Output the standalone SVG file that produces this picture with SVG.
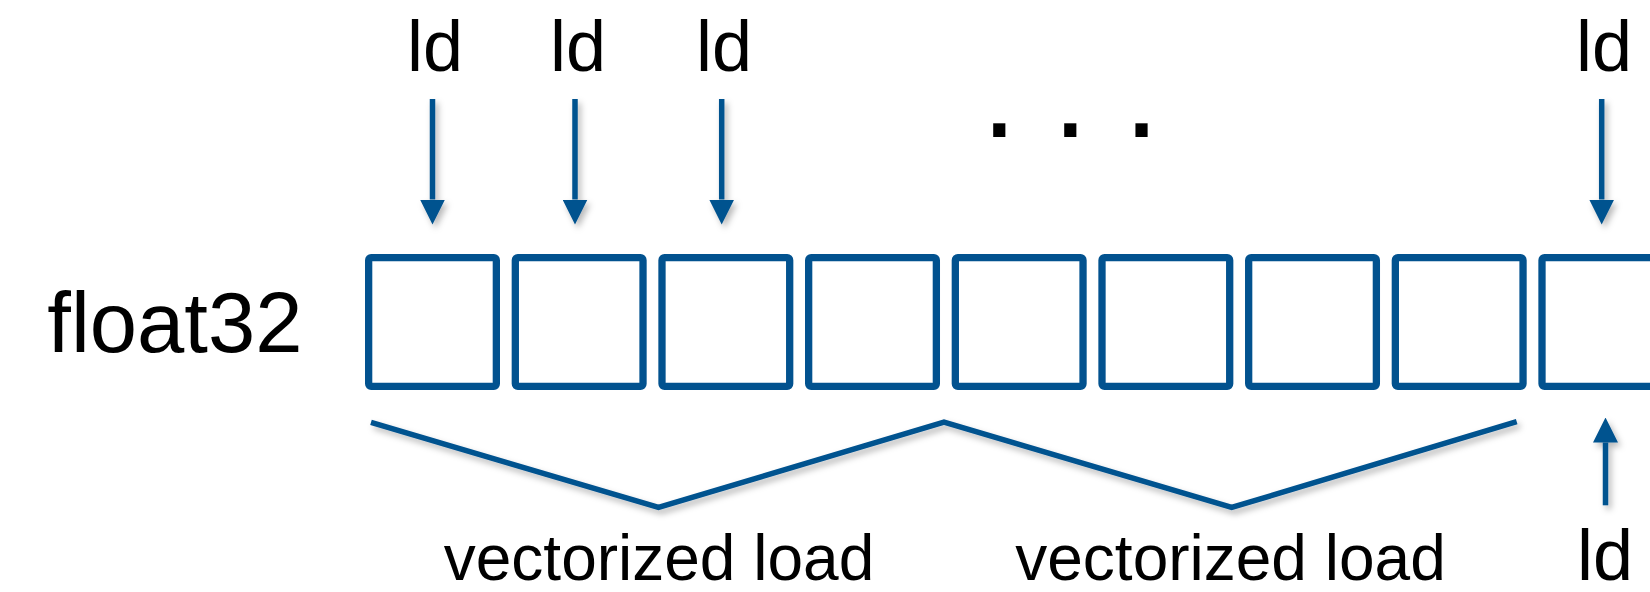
<svg xmlns="http://www.w3.org/2000/svg" width="1650" height="592" viewBox="0 0 1650 592">
  <style>
    .box { fill: #ffffff; stroke: #02528f; stroke-width: 7.3; }
    .arr { stroke: #02528f; stroke-width: 5.5; fill: none; marker-end: url(#head); filter: url(#shadow); }
    .brk { stroke: #02528f; stroke-width: 5.5; fill: none; stroke-linejoin: miter; filter: url(#shadow); }
    .t { font-family: "Liberation Sans", Arial, sans-serif; fill: #000000; }
    .ld { font-size: 72px; text-anchor: middle; }
  </style>
  <defs>
    <marker id="head" viewBox="0 0 25 25" refX="0" refY="12.5" markerWidth="25" markerHeight="25" markerUnits="userSpaceOnUse" orient="auto">
      <path d="M0,0 L25,12.5 L0,25 Z" fill="#02528f"/>
    </marker>
    <filter id="shadow" filterUnits="userSpaceOnUse" x="0" y="0" width="1650" height="592">
      <feDropShadow dx="3" dy="4" stdDeviation="3" flood-color="#000000" flood-opacity="0.28"/>
    </filter>
  </defs>
  <rect width="1650" height="592" fill="#ffffff"/>

  <g id="label-float32">
    <text class="t" x="47.3" y="352" font-size="85">float32</text>
  </g>

  <g id="cells">
    <g id="cell-1"><rect class="box" x="368.65" y="257.65" width="127.7" height="128.7" rx="2.5"/></g>
    <g id="cell-2"><rect class="box" x="515.32" y="257.65" width="127.7" height="128.7" rx="2.5"/></g>
    <g id="cell-3"><rect class="box" x="661.99" y="257.65" width="127.7" height="128.7" rx="2.5"/></g>
    <g id="cell-4"><rect class="box" x="808.66" y="257.65" width="127.7" height="128.7" rx="2.5"/></g>
    <g id="cell-5"><rect class="box" x="955.33" y="257.65" width="127.7" height="128.7" rx="2.5"/></g>
    <g id="cell-6"><rect class="box" x="1102.0" y="257.65" width="127.7" height="128.7" rx="2.5"/></g>
    <g id="cell-7"><rect class="box" x="1248.67" y="257.65" width="127.7" height="128.7" rx="2.5"/></g>
    <g id="cell-8"><rect class="box" x="1395.34" y="257.65" width="127.7" height="128.7" rx="2.5"/></g>
    <g id="cell-9"><rect class="box" x="1542.0" y="257.65" width="127.7" height="128.7" rx="2.5"/></g>
  </g>

  <g id="ld-labels">
    <g id="ld-1"><text class="t ld" x="435" y="71">ld</text></g>
    <g id="ld-2"><text class="t ld" x="578" y="71">ld</text></g>
    <g id="ld-3"><text class="t ld" x="724" y="71">ld</text></g>
    <g id="ld-4"><text class="t ld" x="1604" y="71">ld</text></g>
    <g id="ld-5"><text class="t ld" x="1605" y="580">ld</text></g>
  </g>

  <g id="ellipsis">
    <text class="t" x="1070.4" y="137" font-size="128" text-anchor="middle">. . .</text>
  </g>

  <g id="vec-labels">
    <g id="vec-1"><text class="t" x="659" y="580" font-size="64" text-anchor="middle">vectorized load</text></g>
    <g id="vec-2"><text class="t" x="1230.5" y="580" font-size="64" text-anchor="middle">vectorized load</text></g>
  </g>

  <g id="connectors">
    <line class="arr" x1="432.5" y1="99" x2="432.5" y2="199.5"/>
    <line class="arr" x1="575" y1="99" x2="575" y2="199.5"/>
    <line class="arr" x1="721.7" y1="99" x2="721.7" y2="199.5"/>
    <line class="arr" x1="1601.7" y1="99" x2="1601.7" y2="199.5"/>
    <line class="arr" x1="1605.5" y1="505.3" x2="1605.5" y2="442.5"/>
    <polyline class="brk" points="371,422.3 658.5,507.5 944,422 1231.7,507.5 1516.7,421.7"/>
  </g>
</svg>
